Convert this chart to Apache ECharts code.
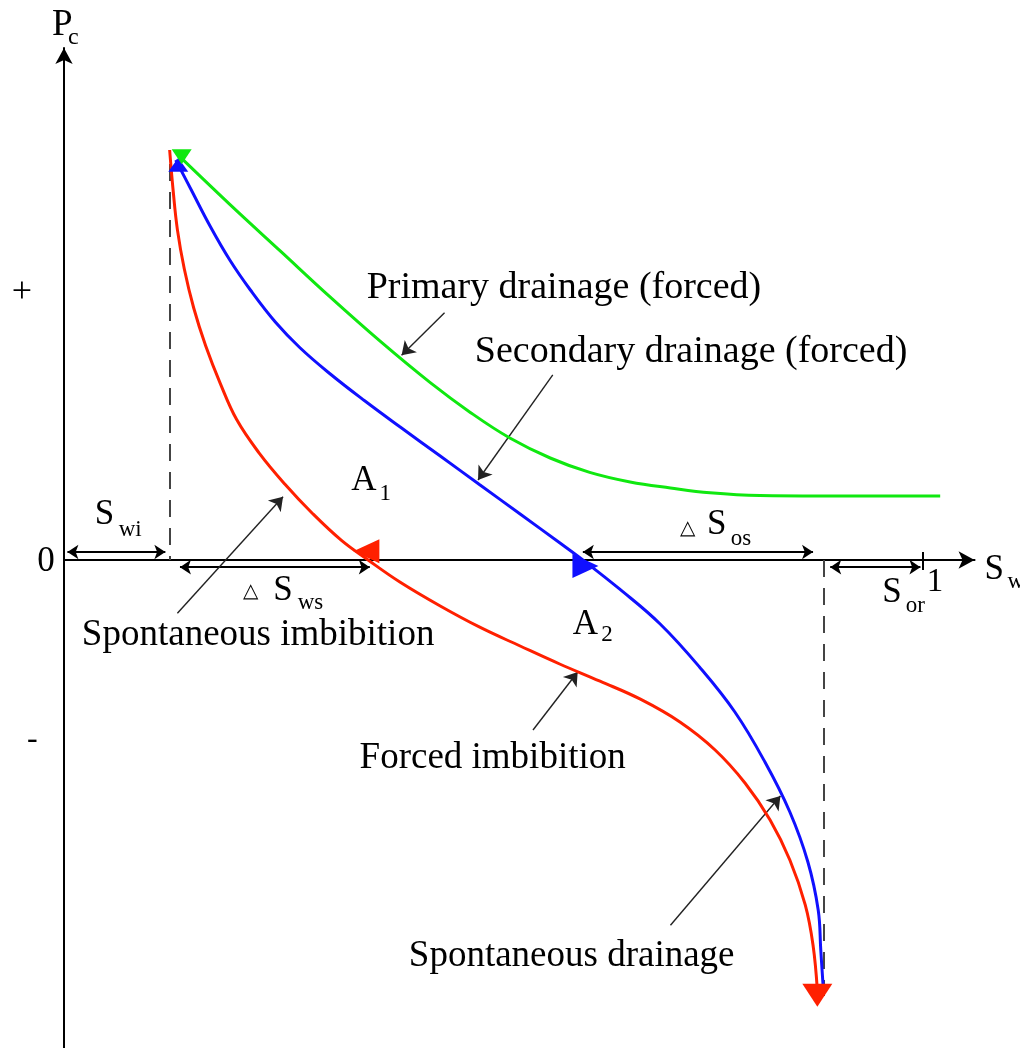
<!DOCTYPE html>
<html>
<head>
<meta charset="utf-8">
<script src="https://cdn.jsdelivr.net/npm/echarts@6/dist/echarts.min.js"></script>
<style>html,body{margin:0;padding:0;background:#fff;}#c{width:1020px;height:1048px;}</style>
</head>
<body>
<div id="c"></div>
<script>
// ---- Data (Sw fraction on x, Pc in arbitrary units on y) ----
var primarySw = [0.133, 0.193, 0.252, 0.310, 0.368, 0.426, 0.473, 0.519, 0.566, 0.612, 0.659, 0.706, 0.752, 0.810, 0.880, 1.020];
var primaryPc = [1.012, 0.889, 0.772, 0.657, 0.547, 0.444, 0.369, 0.305, 0.255, 0.219, 0.195, 0.180, 0.168, 0.161, 0.160, 0.160];

var secondarySw = [0.130, 0.147, 0.170, 0.193, 0.217, 0.246, 0.275, 0.310, 0.350, 0.391, 0.438, 0.484, 0.531, 0.577, 0.604, 0.647, 0.694, 0.740, 0.781, 0.816, 0.845, 0.866, 0.878, 0.881, 0.884];
var secondaryPc = [1.000, 0.930, 0.835, 0.750, 0.675, 0.595, 0.530, 0.465, 0.398, 0.333, 0.260, 0.188, 0.115, 0.043, 0.000, -0.073, -0.160, -0.268, -0.380, -0.505, -0.630, -0.755, -0.875, -0.975, -1.075];

var imbibitionSw = [0.123, 0.127, 0.132, 0.140, 0.151, 0.165, 0.182, 0.201, 0.227, 0.257, 0.289, 0.323, 0.354, 0.391, 0.438, 0.484, 0.531, 0.577, 0.624, 0.671, 0.717, 0.758, 0.793, 0.822, 0.845, 0.863, 0.872, 0.877];
var imbibitionPc = [1.025, 0.925, 0.826, 0.728, 0.630, 0.535, 0.441, 0.351, 0.268, 0.190, 0.117, 0.049, 0.000, -0.055, -0.115, -0.168, -0.215, -0.260, -0.303, -0.348, -0.405, -0.475, -0.558, -0.650, -0.750, -0.863, -0.963, -1.075];

// Direction markers on the curves: [Sw, Pc, rotation, colour key, size]
var curveMarkers = [
  [0.133, 0.988, 0, 'blue', [20, 14]],
  [0.137, 1.008, 180, 'green', [20, 15]],
  [0.352, 0.022, 90, 'red', [24, 26]],
  [0.607, -0.015, -90, 'blue', [24, 26]],
  [0.877, -1.088, 180, 'red', [30, 23]]
];

// Text annotations: [text, Sw, Pc, fontSize]
var labels = [
  ['P', -0.002, 1.337, 37], ['c', 0.011, 1.305, 24],
  ['S', 0.047, 0.113, 35], ['wi', 0.077, 0.075, 23],
  ['0', -0.021, -0.005, 35], ['+', -0.049, 0.668, 36], ['-', -0.037, -0.450, 32],
  ['\u25B3', 0.217, -0.080, 20], ['S', 0.255, -0.078, 35], ['ws', 0.287, -0.108, 23],
  ['\u25B3', 0.726, 0.078, 20], ['S', 0.760, 0.088, 35], ['os', 0.788, 0.053, 23],
  ['S', 0.964, -0.083, 35], ['or', 0.991, -0.115, 23],
  ['1', 1.014, -0.055, 33],
  ['S', 1.083, -0.025, 35], ['w', 1.108, -0.055, 23],
  ['A', 0.349, 0.198, 35], ['1', 0.374, 0.165, 23],
  ['A', 0.607, -0.162, 35], ['2', 0.632, -0.188, 23],
  ['Primary drainage (forced)', 0.582, 0.680, 38],
  ['Secondary drainage (forced)', 0.730, 0.520, 38],
  ['Spontaneous imbibition', 0.226, -0.188, 37],
  ['Forced imbibition', 0.499, -0.495, 37],
  ['Spontaneous drainage', 0.591, -0.990, 37]
];

// Pointer arrows: [fromSw, fromPc, toSw, toPc]
var pointers = [
  [0.443, 0.618, 0.393, 0.512],
  [0.569, 0.463, 0.482, 0.200],
  [0.132, -0.133, 0.255, 0.158],
  [0.546, -0.425, 0.598, -0.280],
  [0.706, -0.913, 0.834, -0.590]
];

// Double-headed span arrows: [fromSw, toSw, Pc]
var spans = [
  [0.004, 0.118, 0.020],
  [0.135, 0.356, -0.018],
  [0.604, 0.872, 0.020],
  [0.892, 0.997, -0.018]
];

// Dashed guide lines: [Sw, fromPc, toPc]
var guides = [
  [0.123, 0.990, 0.000],
  [0.884, 0.000, -1.090]
];

var colors = { green: '#10e810', blue: '#1010ff', red: '#ff2000' };
var FONT = 'Liberation Serif';

function zip(a, b) { return a.map(function (v, i) { return [v, b[i]]; }); }

var chart = echarts.init(document.getElementById('c'), null, { renderer: 'canvas' });

var option = {
  animation: false,
  backgroundColor: '#ffffff',
  grid: { left: 64, right: 45.46, top: 48, bottom: 0, containLabel: false },
  xAxis: {
    type: 'value', min: 0, max: 1.06,
    axisLine: { show: true, onZero: true, symbol: ['none', 'arrow'], symbolSize: [13, 16], lineStyle: { color: '#000', width: 2 } },
    axisTick: { show: false }, axisLabel: { show: false }, splitLine: { show: false }
  },
  yAxis: {
    type: 'value', min: -1.22, max: 1.28,
    axisLine: { show: true, onZero: true, symbol: ['none', 'arrow'], symbolSize: [13, 16], lineStyle: { color: '#000', width: 2 } },
    axisTick: { show: false }, axisLabel: { show: false }, splitLine: { show: false }
  },
  series: [
    {
      type: 'lines', coordinateSystem: 'cartesian2d', silent: true, z: 1,
      lineStyle: { color: '#444', width: 2, type: [17, 11], opacity: 1 },
      symbol: ['none', 'none'],
      data: guides.map(function (g) { return { coords: [[g[0], g[1]], [g[0], g[2]]] }; })
    },
    {
      type: 'lines', coordinateSystem: 'cartesian2d', silent: true, z: 3,
      lineStyle: { color: '#000', width: 2, opacity: 1 },
      symbol: ['arrow', 'arrow'], symbolSize: 11,
      data: spans.map(function (s) { return { coords: [[s[0], s[2]], [s[1], s[2]]] }; })
    },
    {
      type: 'lines', coordinateSystem: 'cartesian2d', silent: true, z: 3,
      lineStyle: { color: '#000', width: 2, opacity: 1 },
      symbol: ['none', 'none'],
      data: [{ coords: [[1.0, 0.02], [1.0, -0.025]] }]
    },
    {
      type: 'lines', coordinateSystem: 'cartesian2d', silent: true, z: 3,
      lineStyle: { color: '#222', width: 1.4, opacity: 1 },
      symbol: ['none', 'arrow'], symbolSize: 13,
      data: pointers.map(function (p) { return { coords: [[p[0], p[1]], [p[2], p[3]]] }; })
    },
    {
      name: 'Spontaneous / forced imbibition', type: 'line', showSymbol: false, smooth: 0.4, z: 4,
      lineStyle: { color: colors.red, width: 3 }, data: zip(imbibitionSw, imbibitionPc)
    },
    {
      name: 'Secondary drainage', type: 'line', showSymbol: false, smooth: 0.4, z: 5,
      lineStyle: { color: colors.blue, width: 3 }, data: zip(secondarySw, secondaryPc)
    },
    {
      name: 'Primary drainage', type: 'line', showSymbol: false, smooth: 0.4, z: 6,
      lineStyle: { color: colors.green, width: 3 }, data: zip(primarySw, primaryPc)
    },
    {
      type: 'scatter', z: 7, clip: false, silent: true,
      data: curveMarkers.map(function (m) {
        return { value: [m[0], m[1]], symbol: 'triangle', symbolRotate: m[2], symbolSize: m[4], itemStyle: { color: colors[m[3]], opacity: 1 } };
      })
    },
    {
      type: 'scatter', z: 8, clip: false, silent: true, symbolSize: 0,
      itemStyle: { opacity: 1 },
      label: { show: true, position: 'inside', align: 'center', verticalAlign: 'middle', fontFamily: FONT, color: '#000', opacity: 1 },
      data: labels.map(function (l) {
        return { value: [l[1], l[2]], label: { formatter: l[0], fontSize: l[3] } };
      })
    }
  ]
};
chart.setOption(option);
</script>
</body>
</html>
